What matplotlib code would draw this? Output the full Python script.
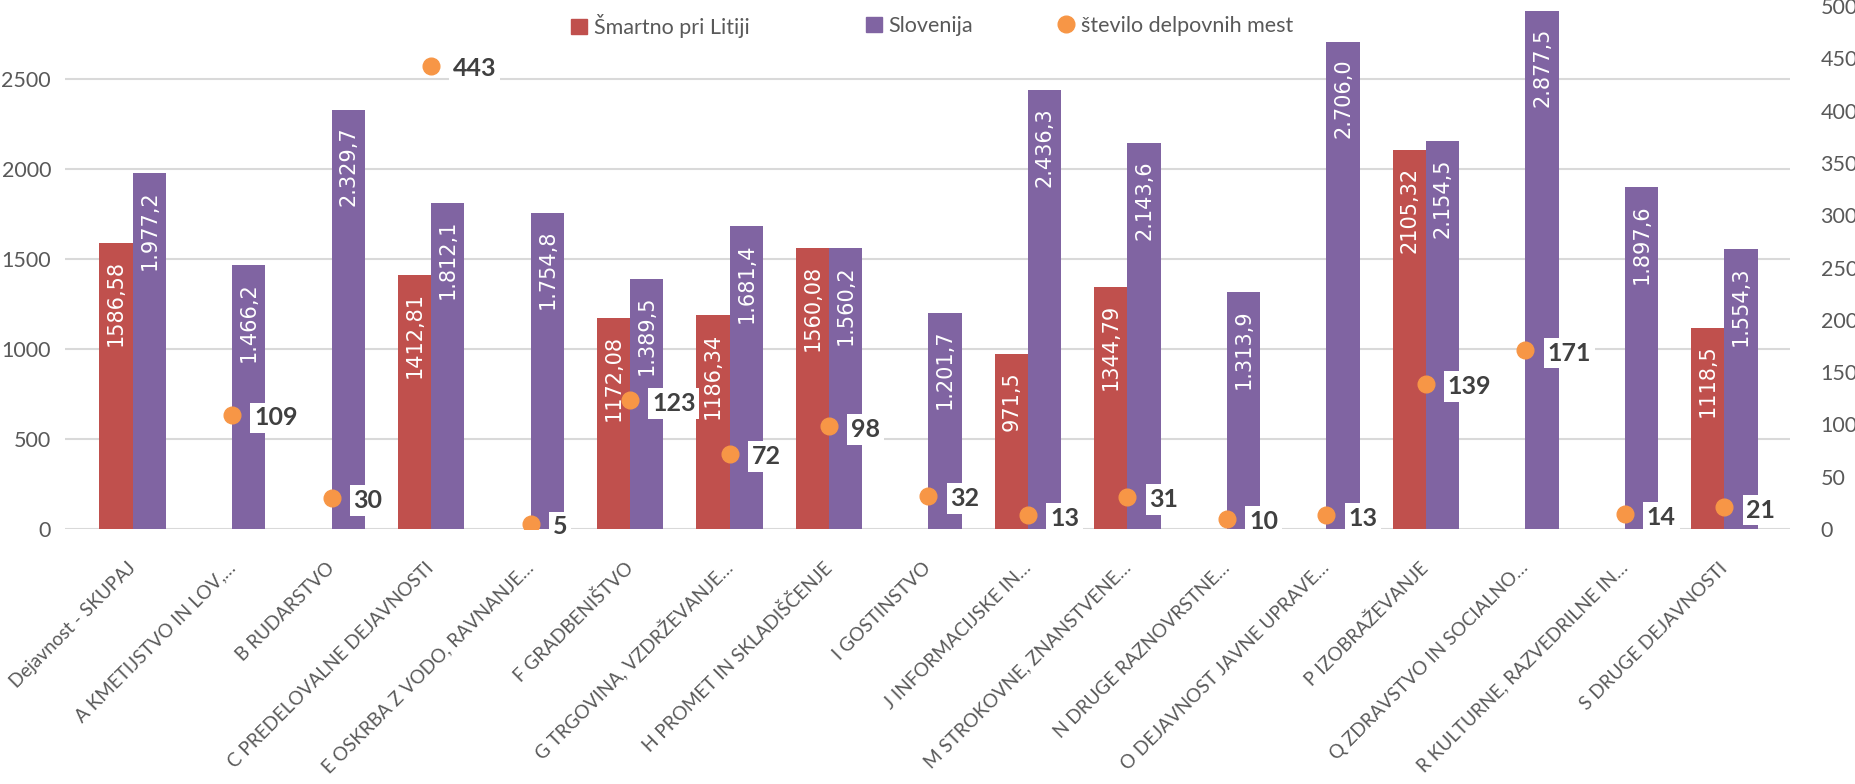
import numpy as np
import matplotlib
matplotlib.use("Agg")
import matplotlib.pyplot as plt
from matplotlib.lines import Line2D
from matplotlib.patches import Patch

categories = ["Dejavnost - SKUPAJ", "A KMETIJSTVO IN LOV,…", "B RUDARSTVO",
              "C PREDELOVALNE DEJAVNOSTI", "E OSKRBA Z VODO, RAVNANJE…",
              "F GRADBENIŠTVO", "G TRGOVINA, VZDRŽEVANJE…",
              "H PROMET IN SKLADIŠČENJE", "I GOSTINSTVO", "J INFORMACIJSKE IN…",
              "M STROKOVNE, ZNANSTVENE…", "N DRUGE RAZNOVRSTNE…",
              "O DEJAVNOST JAVNE UPRAVE…", "P IZOBRAŽEVANJE",
              "Q ZDRAVSTVO IN SOCIALNO…", "R KULTURNE, RAZVEDRILNE IN…",
              "S DRUGE DEJAVNOSTI"]
smartno = [1586.58, np.nan, np.nan, 1412.81, np.nan, 1172.08, 1186.34, 1560.08,
           np.nan, 971.5, 1344.79, np.nan, np.nan, 2105.32, np.nan, np.nan, 1118.5]
slovenija = [1977.2, 1466.2, 2329.7, 1812.1, 1754.8, 1389.5, 1681.4, 1560.2,
             1201.7, 2436.3, 2143.6, 1313.9, 2706.0, 2154.5, 2877.5, 1897.6, 1554.3]
mesta = [np.nan, 109, 30, 443, 5, 123, 72, 98, 32, 13, 31, 10, 13, 139, 171, 14, 21]
left_ticks = [0, 500, 1000, 1500, 2000, 2500]
right_ticks = [0, 50, 100, 150, 200, 250, 300, 350, 400, 450, 500]
series_names = ["Šmartno pri Litiji", "Slovenija", "število delpovnih mest"]

RED = "#C0504D"
PURPLE = "#8064A2"
ORANGE = "#F79646"
GREY = "#595959"
UIFONT = ["Lato", "DejaVu Sans"]

fig = plt.figure(figsize=(18.56, 7.84), dpi=100)
W, H = 1856, 784
ax = fig.add_axes([65 / W, (784 - 529) / H, (1790 - 65) / W, (529 - 6) / H])
ax2 = ax.twinx()

x = np.arange(len(categories))
bw = 0.335
ax.bar(x - bw / 2, smartno, width=bw, color=RED, zorder=3)
ax.bar(x + bw / 2, slovenija, width=bw, color=PURPLE, zorder=3)

def fmt_red(v):
    return f"{v:g}".replace(".", ",")

def fmt_purple(v):
    s = f"{v:,.1f}"
    return s.replace(",", "X").replace(".", ",").replace("X", ".")

for xi, v in zip(x, smartno):
    if not np.isnan(v):
        ax.annotate(fmt_red(v), (xi - bw / 2, v), xytext=(0, -17),
                    textcoords="offset pixels", rotation=90, ha="center", va="top",
                    color="white", fontsize=15, family="DejaVu Sans", zorder=4)
for xi, v in zip(x, slovenija):
    ax.annotate(fmt_purple(v), (xi + bw / 2, v), xytext=(0, -17),
                textcoords="offset pixels", rotation=90, ha="center", va="top",
                color="white", fontsize=15, family="DejaVu Sans", zorder=4)

ax.set_ylim(0, 2905)
ax.set_xlim(-0.68, 16.66)
ax.set_yticks(left_ticks)
ax.grid(axis="y", color="#D9D9D9", linewidth=1.5, zorder=0)
ax.set_axisbelow(True)
for s in ax.spines.values():
    s.set_visible(False)
for s in ax2.spines.values():
    s.set_visible(False)
ax.tick_params(axis="y", length=0, pad=10, labelsize=15.5, labelcolor=GREY)
ax.set_xticks(x)
ax.set_xticklabels(categories, rotation=45, ha="right", va="center",
                   rotation_mode="anchor", fontsize=13.6, color=GREY, family=UIFONT)
ax.tick_params(axis="x", length=0, pad=26)
for lab in ax.get_yticklabels():
    lab.set_family(UIFONT)

ax2.set_ylim(0, 500)
ax2.set_yticks(right_ticks)
ax2.tick_params(axis="y", length=0, pad=22, labelsize=15.5, labelcolor=GREY)
for lab in ax2.get_yticklabels():
    lab.set_family(UIFONT)

ax2.plot(x, mesta, linestyle="none", marker="o", markersize=12,
         color=ORANGE, zorder=5)
for xi, v in zip(x, mesta):
    if not np.isnan(v):
        ax2.annotate(f"{int(v)}", (xi, v), xytext=(22, -3), textcoords="offset pixels",
                     ha="left", va="center", fontsize=18, fontweight="bold",
                     color="#404040", family=UIFONT,
                     bbox=dict(boxstyle="square,pad=0.15", fc="white", ec="none"),
                     zorder=6)

handles = [Patch(color=RED, label=series_names[0]),
           Patch(color=PURPLE, label=series_names[1]),
           Line2D([], [], linestyle="none", marker="o", markersize=12, color=ORANGE,
                  label=series_names[2])]
legend_x = [571, 866, 1058]
for h, lx in zip(handles, legend_x):
    fig.legend(handles=[h], loc="center left", bbox_to_anchor=(lx / W, 1 - 26 / H),
               frameon=False, handlelength=0.75, handletextpad=0.3,
               borderpad=0, borderaxespad=0,
               prop={"family": UIFONT, "size": 15.5}, labelcolor=GREY)

fig.savefig("out.png", dpi=100)
